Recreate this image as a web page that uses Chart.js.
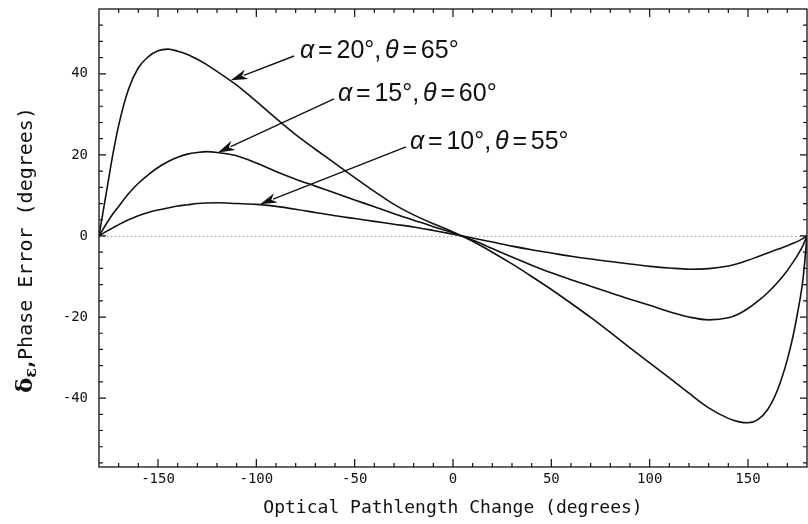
<!DOCTYPE html>
<html>
<head>
<meta charset="utf-8">
<script src="https://cdn.jsdelivr.net/npm/chart.js@4.4.0/dist/chart.umd.min.js"></script>
<style>
html, body { margin: 0; padding: 0; background: #fff; }
#wrap { width: 808px; height: 524px; }
</style>
</head>
<body>
<div id="wrap"><canvas id="phaseChart" width="808" height="524"></canvas></div>
<script>
// optical pathlength change (degrees), shared by all curves
const pathChange = [-180, -176, -173, -170, -165, -160, -155, -150, -145, -140, -135, -130, -125, -120,
  -110, -100, -90, -80, -70, -60, -50, -40, -30, -20, -10, 0, 10, 20, 30, 40, 50, 60, 70, 80, 90,
  100, 110, 120, 130, 140, 145, 150, 155, 160, 165, 170, 173, 175, 178, 180];

// phase error (degrees)
const errA20 = [0, 11.5, 20, 27.3, 36.2, 41.5, 44.2, 45.7, 46.1, 45.6, 44.8, 43.6, 42.2, 40.6,
  37.2, 33.2, 29.0, 25.0, 21.4, 17.9, 14.4, 11.0, 7.8, 5.2, 3.0, 1.0, -1.3, -4.0, -6.9, -10.0, -13.2, -16.6, -20.1, -23.8, -27.6,
  -31.3, -35.0, -38.8, -42.4, -45.0, -45.8, -46.1, -45.3, -42.8, -38.0, -30.5, -24.5, -19.5, -10.5, 0];
const errA15 = [0, 3.2, 5.4, 7.3, 10.4, 13.0, 15.1, 16.9, 18.3, 19.4, 20.2, 20.6, 20.8, 20.6,
  19.8, 18.0, 15.9, 14.0, 12.3, 10.6, 8.9, 7.2, 5.5, 3.9, 2.3, 0.8, -1.0, -3.1, -5.2, -7.2, -9.1, -10.8, -12.4, -14.0, -15.6,
  -17.1, -18.7, -20.0, -20.7, -20.2, -19.3, -17.9, -16.1, -14.0, -11.5, -8.5, -6.4, -4.9, -2.3, 0];
const errA10 = [0, 1.2, 2.0, 2.8, 4.0, 5.0, 5.8, 6.4, 6.9, 7.4, 7.7, 8.0, 8.15, 8.2,
  8.0, 7.8, 7.3, 6.6, 5.8, 5.0, 4.3, 3.6, 2.9, 2.2, 1.35, 0.45, -0.5, -1.5, -2.5, -3.4, -4.2, -5.0, -5.7, -6.3, -6.9,
  -7.5, -7.9, -8.2, -8.05, -7.4, -6.8, -6.0, -5.1, -4.2, -3.3, -2.4, -1.8, -1.4, -0.6, 0];

const xTicks = [-150, -100, -50, 0, 50, 100, 150];
const yTicks = [-40, -20, 0, 20, 40];
const curveLabels = ['α = 20°, θ = 65°', 'α = 15°, θ = 60°', 'α = 10°, θ = 55°'];

// arrow callouts in data units: tip on the curve, tail near the label
const callouts = [
  { label: 0, tip: [-113, 38.4], tail: [-80.8, 44.4], text: [-77.8, 44.0] },
  { label: 1, tip: [-119.5, 20.6], tail: [-60.5, 33.8], text: [-58.5, 33.4] },
  { label: 2, tip: [-98.1, 7.85], tail: [-23.9, 22.0], text: [-21.9, 21.4] }
];

const ink = '#111';
const monoFont = '"DejaVu Sans Mono", "Liberation Mono", monospace';

function toPoints(ys) {
  return pathChange.map((x, i) => ({ x: x, y: ys[i] }));
}

function curve(ys) {
  return {
    data: toPoints(ys),
    borderColor: ink,
    borderWidth: 1.6,
    pointRadius: 0,
    fill: false,
    cubicInterpolationMode: 'monotone'
  };
}

function drawArrow(ctx, x1, y1, x2, y2) {
  const ang = Math.atan2(y2 - y1, x2 - x1);
  const len = 17, half = 5;
  ctx.beginPath();
  ctx.moveTo(x1, y1);
  ctx.lineTo(x2 - Math.cos(ang) * (len - 3), y2 - Math.sin(ang) * (len - 3));
  ctx.stroke();
  ctx.beginPath();
  ctx.moveTo(x2, y2);
  ctx.lineTo(x2 - Math.cos(ang) * len - Math.sin(ang) * half, y2 - Math.sin(ang) * len + Math.cos(ang) * half);
  ctx.lineTo(x2 - Math.cos(ang) * (len - 5), y2 - Math.sin(ang) * (len - 5));
  ctx.lineTo(x2 - Math.cos(ang) * len + Math.sin(ang) * half, y2 - Math.sin(ang) * len - Math.cos(ang) * half);
  ctx.closePath();
  ctx.fill();
}

function drawLabel(ctx, str, x, y) {
  let cx = x;
  for (const ch of str) {
    const greek = (ch === 'α' || ch === 'θ');
    ctx.font = (greek ? 'italic ' : '') + '25px "Liberation Sans Narrow", "Liberation Sans", sans-serif';
    ctx.fillText(ch, cx, y);
    let w = ctx.measureText(ch).width;
    if (ch === ' ') w *= 0.55;
    cx += w;
  }
}

function noPad(s) {
  s.paddingTop = 0; s.paddingBottom = 0; s.paddingLeft = 0; s.paddingRight = 0;
}

const framePlugin = {
  id: 'frame',
  beforeDatasetsDraw(chart) {
    const { ctx, chartArea: a, scales: { y } } = chart;
    // dotted zero line
    ctx.save();
    ctx.strokeStyle = '#9a9a9a';
    ctx.lineWidth = 1;
    ctx.setLineDash([1.5, 2.5]);
    ctx.beginPath();
    ctx.moveTo(a.left, y.getPixelForValue(0) + 0.5);
    ctx.lineTo(a.right, y.getPixelForValue(0) + 0.5);
    ctx.stroke();
    ctx.restore();
  },
  afterDraw(chart) {
    const { ctx, chartArea: a, scales: { x, y } } = chart;
    ctx.save();
    ctx.strokeStyle = ink;
    ctx.fillStyle = ink;
    ctx.lineWidth = 1.3;
    ctx.strokeRect(a.left, a.top, a.right - a.left, a.bottom - a.top);

    // inward ticks on all four sides
    ctx.lineWidth = 1.2;
    ctx.beginPath();
    for (let v = -170; v <= 170; v += 10) {
      const px = x.getPixelForValue(v);
      const l = (v % 50 === 0) ? 8 : 4;
      ctx.moveTo(px, a.bottom); ctx.lineTo(px, a.bottom - l);
      ctx.moveTo(px, a.top); ctx.lineTo(px, a.top + l);
    }
    for (let v = -56; v <= 56; v += 4) {
      const py = y.getPixelForValue(v);
      if (py < a.top + 2 || py > a.bottom - 2) continue;
      const l = (v % 20 === 0) ? 7 : 4;
      ctx.moveTo(a.left, py); ctx.lineTo(a.left + l, py);
      ctx.moveTo(a.right, py); ctx.lineTo(a.right - l, py);
    }
    ctx.stroke();

    // callouts
    ctx.lineWidth = 1.4;
    ctx.textBaseline = 'alphabetic';
    callouts.forEach(c => {
      drawArrow(ctx, x.getPixelForValue(c.tail[0]), y.getPixelForValue(c.tail[1]),
        x.getPixelForValue(c.tip[0]), y.getPixelForValue(c.tip[1]));
      drawLabel(ctx, curveLabels[c.label], x.getPixelForValue(c.text[0]), y.getPixelForValue(c.text[1]));
    });

    // y axis title with delta epsilon symbol
    ctx.translate(32, 393);
    ctx.rotate(-Math.PI / 2);
    ctx.font = 'bold 23px "DejaVu Serif", serif';
    ctx.fillText('δ', 0, 0);
    let off = ctx.measureText('δ').width;
    ctx.font = 'bold 16px "DejaVu Serif", serif';
    ctx.fillText('ε', off, 4);
    off += ctx.measureText('ε').width;
    ctx.font = 'bold 19px ' + monoFont;
    ctx.fillText(',', off - 2, 0);
    off += 8;
    ctx.font = '20px ' + monoFont;
    ctx.fillText('Phase Error (degrees)', off, 0);
    ctx.restore();
  }
};

new Chart(document.getElementById('phaseChart'), {
  type: 'line',
  data: {
    datasets: [curve(errA20), curve(errA15), curve(errA10)]
  },
  options: {
    responsive: false,
    animation: false,
    layout: { padding: { top: 9, right: 1, left: 0, bottom: 0 } },
    plugins: { legend: { display: false }, tooltip: { enabled: false } },
    scales: {
      x: {
        type: 'linear',
        min: -180,
        max: 180,
        afterFit: s => { s.height = 57; noPad(s); },
        afterBuildTicks: s => { s.ticks = xTicks.map(v => ({ value: v })); },
        grid: { display: false, drawTicks: false },
        border: { display: false },
        ticks: { color: ink, padding: 4, font: { family: monoFont, size: 14 }, maxRotation: 0 },
        title: {
          display: true,
          text: 'Optical Pathlength Change (degrees)',
          color: ink,
          font: { family: monoFont, size: 18 },
          padding: { top: 0, bottom: 5 }
        }
      },
      y: {
        type: 'linear',
        min: -57,
        max: 56,
        afterFit: s => { s.width = 99; noPad(s); },
        afterBuildTicks: s => { s.ticks = yTicks.map(v => ({ value: v })); },
        grid: { display: false, drawTicks: false },
        border: { display: false },
        ticks: { color: ink, padding: 11, font: { family: monoFont, size: 14 } }
      }
    }
  },
  plugins: [framePlugin]
});
</script>
</body>
</html>
